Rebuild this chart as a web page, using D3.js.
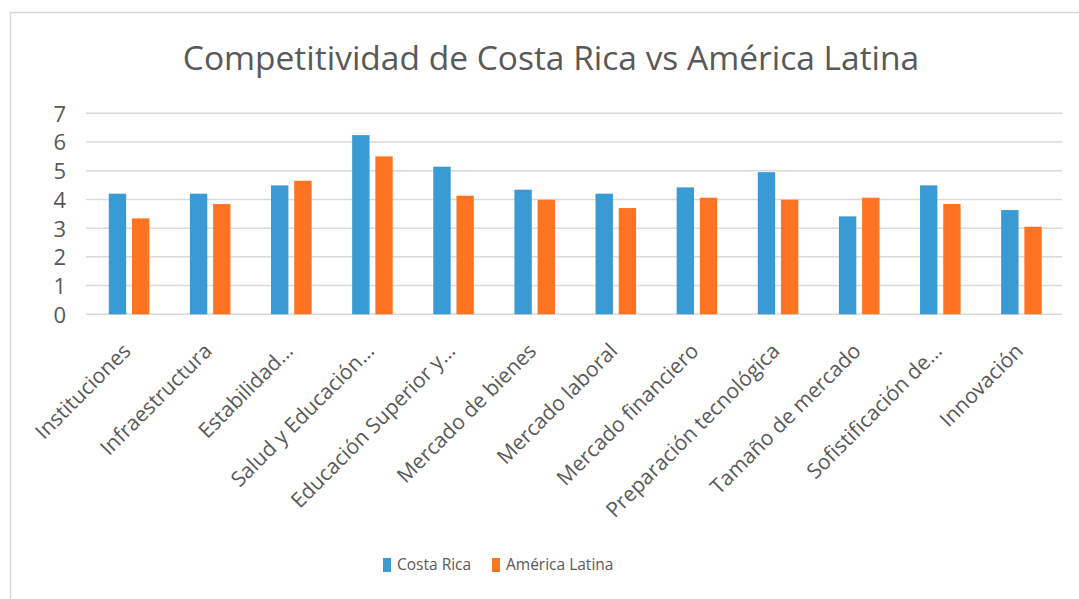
<!DOCTYPE html>
<html><head><meta charset="utf-8">
<script src="https://cdn.jsdelivr.net/npm/d3@7"></script>
<style>html,body{margin:0;padding:0;background:#fff;overflow:hidden}</style>
</head><body>
<svg id="c" width="1079" height="599"></svg>
<script>
const categories = ["Instituciones","Infraestructura","Estabilidad…","Salud y Educación…","Educación Superior y…","Mercado de bienes","Mercado laboral","Mercado financiero","Preparación tecnológica","Tamaño de mercado","Sofistificación de…","Innovación"];
const seriesNames = ["Costa Rica","América Latina"];
const costaRica = [4.20,4.20,4.49,6.24,5.14,4.34,4.20,4.42,4.95,3.41,4.49,3.63];
const americaLatina = [3.34,3.84,4.65,5.50,4.13,3.99,3.70,4.06,3.99,4.06,3.84,3.05];
const yTicks = [0,1,2,3,4,5,6,7];
const colors = ["#3A9AD3","#FF7423"];
const title = "Competitividad de Costa Rica vs América Latina";

const svg = d3.select("#c");
const font = "'Open Sans', sans-serif";
const textCol = "#595959";

svg.append("rect").attr("x",10.5).attr("y",12.5).attr("width",1100).attr("height",700)
  .attr("fill","#fff").attr("stroke","#D9D9D9").attr("stroke-width",1.5);

const x0 = d3.scaleBand().domain(categories).range([88.5,1062]).padding(0);
const x1 = d3.scaleBand().domain(seriesNames).range([x0.bandwidth()*0.25, x0.bandwidth()*0.75]).paddingInner(0.25).paddingOuter(0);
const y = d3.scaleLinear().domain([0,7]).range([314.3,113.3]);

// gridlines
svg.append("g").selectAll("line").data(yTicks).join("line")
  .attr("x1",86).attr("x2",1062).attr("y1",d=>y(d)).attr("y2",d=>y(d))
  .attr("stroke","#D9D9D9").attr("stroke-width",1.5);

// y axis labels
const yAxis = d3.axisLeft(y).tickValues(yTicks).tickFormat(d3.format("d")).tickSize(0).tickPadding(0);
const ya = svg.append("g").attr("transform","translate(66,0)").call(yAxis);
ya.select(".domain").remove();
ya.selectAll("text").attr("font-family",font).attr("font-size",22).attr("fill",textCol).attr("dy","0.36em");

// bars
const data = categories.map((c,i)=>({cat:c, vals:[costaRica[i], americaLatina[i]]}));
const g = svg.append("g").selectAll("g").data(data).join("g")
  .attr("transform",d=>`translate(${x0(d.cat)},0)`);
g.selectAll("rect").data(d=>d.vals.map((v,j)=>({s:seriesNames[j],v,j}))).join("rect")
  .attr("x",d=>x1(d.s)).attr("width",x1.bandwidth())
  .attr("y",d=>y(d.v)).attr("height",d=>y(0)-y(d.v))
  .attr("fill",d=>colors[d.j]);

// x labels
const xAxis = d3.axisBottom(x0).tickSize(0).tickPadding(0);
const xa = svg.append("g").attr("transform","translate(0,314.3)").call(xAxis);
xa.select(".domain").remove();
xa.selectAll("text").attr("font-family",font).attr("font-size",21).attr("fill",textCol)
  .attr("text-anchor","end").attr("dy",null).attr("y",0)
  .attr("transform","translate(3,38) rotate(-45)");

// title
svg.append("text").attr("x",551).attr("y",70).attr("text-anchor","middle")
  .attr("font-family",font).attr("font-size",33.5).attr("fill",textCol).text(title);

// legend
const leg = svg.append("g");
const legX = [383,492];
seriesNames.forEach((s,i)=>{
  leg.append("rect").attr("x",legX[i]).attr("y",558).attr("width",8).attr("height",14).attr("fill",colors[i]);
  leg.append("text").attr("x",legX[i]+14).attr("y",565).attr("dy","0.35em")
    .attr("font-family",font).attr("font-size",15.5).attr("fill",textCol).text(s);
});
</script>
</body></html>
